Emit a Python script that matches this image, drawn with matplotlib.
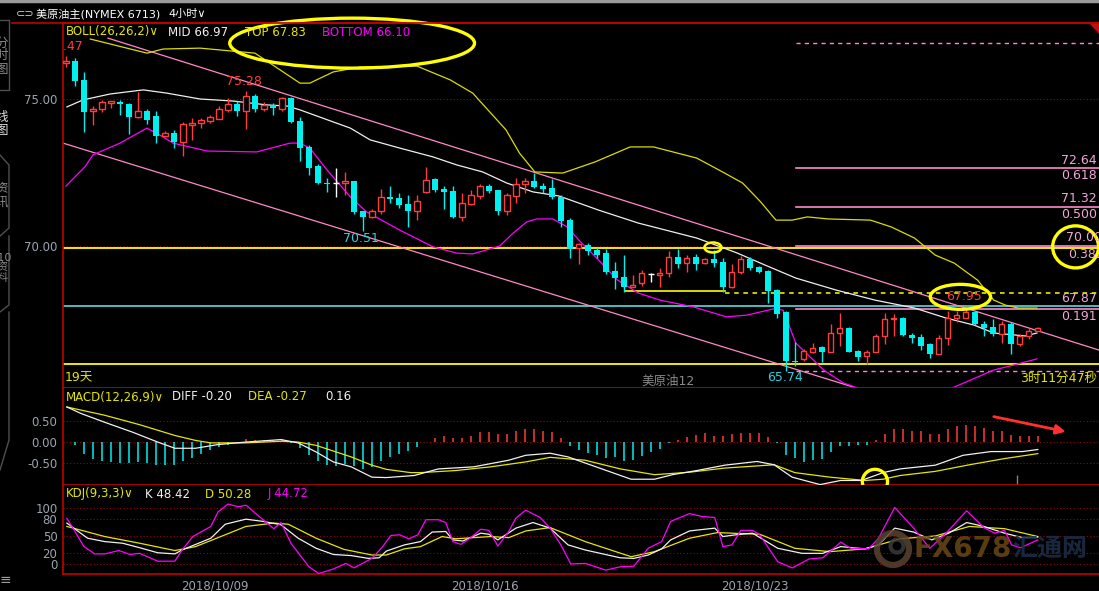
import numpy as np
import matplotlib
matplotlib.use("Agg")
import matplotlib.pyplot as plt
from matplotlib.patches import Ellipse, Polygon
from matplotlib.lines import Line2D

plt.rcParams['font.family'] = ['DejaVu Sans', 'Noto Sans CJK SC']

W, H = 1099, 591

# ---- 4 hour candles (NYMEX crude) ----
opens = [76.22, 76.30, 75.65, 74.60, 74.66, 74.88, 74.90, 74.83, 74.39, 74.59,
         74.42, 73.74, 73.84, 73.53, 74.13, 74.20, 74.25, 74.33, 74.63, 74.83,
         74.60, 75.10, 74.66, 74.80, 74.66, 75.03, 74.25, 73.36, 72.71, 72.14,
         72.13, 72.13, 72.20, 71.18, 70.97, 71.18, 71.68, 71.62, 71.42, 71.20,
         71.85, 72.28, 71.95, 71.88, 71.00, 71.43, 71.70, 72.05, 71.90, 71.20,
         71.70, 72.10, 72.20, 72.03, 71.98, 71.65, 70.87, 69.93, 70.05, 69.85,
         69.75, 69.15, 68.95, 68.60, 68.75, 69.05, 69.00, 69.08, 69.62, 69.42,
         69.62, 69.42, 69.55, 69.45, 68.60, 69.10, 69.55, 69.28, 69.15, 68.50,
         67.75, 66.10, 66.15, 66.40, 66.55, 66.40, 67.05, 67.20, 66.42, 66.25,
         66.38, 66.93, 67.50, 67.55, 66.98, 66.90, 66.68, 66.33, 66.88, 67.55,
         67.55, 67.75, 67.33, 67.25, 67.00, 67.35, 66.65, 66.93, 67.12]
highs = [76.47, 76.40, 75.92, 74.76, 74.95, 74.93, 74.97, 74.86, 75.24, 74.66,
         74.59, 73.90, 73.94, 74.22, 74.35, 74.36, 74.46, 74.76, 75.03, 74.93,
         75.28, 75.17, 74.90, 74.85, 75.07, 75.06, 74.39, 73.43, 72.80, 72.30,
         72.64, 72.50, 72.20, 71.20, 71.25, 71.93, 72.03, 71.80, 71.72, 71.75,
         72.70, 72.30, 72.03, 72.03, 71.80, 71.90, 72.10, 72.10, 71.90, 71.80,
         72.30, 72.30, 72.47, 72.13, 72.27, 71.75, 70.95, 70.10, 70.10, 69.95,
         69.90, 69.45, 69.70, 69.00, 69.20, 69.07, 69.25, 69.82, 69.90, 69.68,
         69.72, 69.60, 69.85, 69.60, 69.40, 69.65, 69.62, 69.33, 69.20, 68.55,
         67.80, 66.72, 66.50, 66.70, 66.60, 67.35, 67.73, 67.25, 66.45, 66.45,
         67.00, 67.73, 67.70, 67.60, 67.05, 67.00, 66.70, 66.97, 67.78, 67.80,
         67.95, 67.80, 67.45, 67.50, 67.45, 67.40, 67.00, 67.20, 67.25]
lows = [76.08, 75.44, 73.87, 74.11, 74.56, 74.69, 74.45, 73.81, 74.35, 74.15,
        73.50, 73.70, 73.33, 73.05, 73.60, 74.00, 74.20, 74.32, 74.56, 74.42,
        73.98, 74.56, 74.60, 74.45, 74.58, 74.20, 72.88, 72.41, 72.10, 71.83,
        71.65, 71.72, 71.10, 70.51, 70.95, 71.10, 71.45, 71.30, 70.63, 70.87,
        71.80, 71.85, 71.25, 70.95, 70.84, 71.40, 71.60, 71.80, 71.05, 71.05,
        71.45, 71.80, 71.98, 71.80, 71.60, 70.63, 69.60, 69.40, 69.70, 69.60,
        69.05, 68.55, 68.45, 68.60, 68.65, 68.77, 68.60, 68.95, 69.25, 69.10,
        69.20, 69.40, 69.30, 68.45, 68.57, 69.05, 69.20, 69.08, 68.07, 67.55,
        65.74, 65.93, 66.10, 66.35, 66.06, 66.40, 66.60, 66.40, 66.10, 66.00,
        66.38, 66.68, 66.95, 66.95, 66.70, 66.45, 66.20, 66.33, 66.62, 67.40,
        67.55, 67.30, 66.95, 66.95, 66.70, 66.33, 66.60, 66.85, 67.10]
closes = [76.30, 75.61, 74.56, 74.66, 74.90, 74.92, 74.83, 74.39, 74.59, 74.28,
          73.74, 73.84, 73.53, 74.15, 74.20, 74.30, 74.38, 74.66, 74.83, 74.60,
          75.10, 74.66, 74.80, 74.69, 75.03, 74.22, 73.33, 72.65, 72.13, 72.10,
          72.13, 72.20, 71.15, 70.97, 71.20, 71.66, 71.60, 71.38, 71.18, 71.52,
          72.25, 71.90, 71.85, 71.00, 71.45, 71.73, 72.05, 71.87, 71.20, 71.73,
          72.10, 72.20, 72.00, 71.95, 71.65, 70.85, 69.90, 70.08, 69.82, 69.70,
          69.13, 68.90, 68.60, 68.67, 69.07, 69.05, 69.08, 69.63, 69.38, 69.60,
          69.40, 69.55, 69.42, 68.60, 69.10, 69.55, 69.25, 69.10, 68.48, 67.70,
          66.08, 66.04, 66.42, 66.52, 66.40, 67.05, 67.22, 66.40, 66.23, 66.38,
          66.93, 67.50, 67.55, 66.98, 66.87, 66.60, 66.33, 66.88, 67.55, 67.67,
          67.75, 67.33, 67.22, 67.00, 67.35, 66.65, 66.95, 67.12, 67.20]

# ---- BOLL(26,26,2) (bar index, price) ----
boll_up_x = [2.7, 9.0, 10.8, 14.9, 21.0, 26.0, 27.1, 29.7, 32.7, 39.0, 42.7, 45.2, 48.9,
             50.4, 52.1, 55.2, 58.8, 62.7, 65.3, 70.1, 73.2, 75.2, 77.2, 78.9, 80.7, 82.4,
             84.7, 89.4, 91.7, 94.3, 96.6, 98.7, 101.3, 103.1, 104.4, 105.8, 107.9]
boll_up = [77.04, 76.56, 76.70, 76.73, 76.56, 75.54, 75.54, 75.92, 76.09, 76.12, 75.65,
           75.20, 73.95, 73.16, 72.52, 72.48, 72.86, 73.37, 73.37, 72.99, 72.48, 72.14,
           71.50, 70.88, 70.88, 70.99, 70.92, 70.88, 70.65, 70.27, 69.69, 69.42, 68.84,
           68.16, 67.99, 67.89, 67.89]
boll_mid_x = [0.1, 1.9, 4.9, 8.6, 11.2, 14.9, 18.6, 22.3, 24.6, 26.0, 29.7, 31.6, 33.8,
              37.1, 40.8, 43.4, 46.3, 49.0, 51.9, 54.8, 59.2, 63.6, 70.1, 74.6, 77.7, 81.1,
              85.6, 89.9, 94.3, 97.8, 100.9, 103.1, 106.6, 107.9]
boll_mid = [74.73, 74.97, 75.17, 75.31, 75.20, 75.00, 74.93, 74.80, 74.76, 74.63, 74.22,
            74.01, 73.61, 73.33, 73.03, 72.76, 72.52, 72.14, 71.84, 71.70, 71.22, 70.78,
            70.27, 69.76, 69.35, 68.91, 68.50, 68.16, 67.89, 67.55, 67.31, 67.04, 66.94,
            67.04]
boll_low_x = [0.0, 2.1, 3.0, 6.0, 9.0, 10.4, 11.9, 15.7, 21.2, 24.9, 26.0, 27.1, 29.0,
              31.6, 33.4, 37.1, 40.8, 43.4, 45.2, 47.1, 48.2, 49.7, 51.2, 52.3, 54.1, 55.7,
              57.0, 59.2, 61.3, 63.6, 66.0, 69.7, 73.4, 75.7, 78.6, 79.7, 81.1, 84.2, 86.4,
              89.3, 96.0, 98.7, 103.1, 105.3, 107.9]
boll_low = [72.04, 72.69, 73.10, 73.50, 74.01, 73.78, 73.50, 73.23, 73.20, 73.50, 73.50,
            73.33, 72.59, 71.67, 71.16, 70.54, 69.97, 69.76, 69.73, 69.90, 70.00, 70.44,
            70.82, 70.92, 70.92, 70.65, 70.20, 69.52, 68.84, 68.40, 68.16, 67.93, 67.59,
            67.65, 67.86, 67.82, 66.70, 65.78, 65.34, 65.03, 64.93, 65.20, 65.78, 65.95,
            66.16]

# ---- drawn objects ----
chan_up_x, chan_up = [4.67, 114.8], [77.07, 66.46]
chan_low_x, chan_low = [-0.33, 92.7], [73.50, 64.71]
fib_start = 81.1
fib_levels = [72.64, 71.32, 70.00, 67.87]
fib_dash = [76.92, 65.74]
yellow_levels = [69.93, 65.99]
cyan_level = 67.96
support_x, support = [62.1, 73.2], 68.48
support_dash = 68.39

# ---- MACD(12,26,9) ----
macd_hist = [0.00, -0.08, -0.30, -0.42, -0.47, -0.48, -0.50, -0.50, -0.48, -0.51,
             -0.56, -0.55, -0.56, -0.47, -0.39, -0.28, -0.20, -0.12, -0.06, -0.02,
             0.07, 0.06, 0.05, 0.06, 0.08, -0.02, -0.15, -0.31, -0.47, -0.55,
             -0.58, -0.54, -0.59, -0.65, -0.60, -0.47, -0.35, -0.28, -0.22, -0.12,
             0.01, 0.10, 0.15, 0.10, 0.10, 0.15, 0.24, 0.24, 0.19, 0.20,
             0.26, 0.31, 0.31, 0.28, 0.24, 0.10, -0.10, -0.20, -0.27, -0.32,
             -0.39, -0.36, -0.46, -0.44, -0.34, -0.24, -0.16, -0.02, 0.04, 0.12,
             0.16, 0.22, 0.15, 0.14, 0.20, 0.22, 0.22, 0.22, 0.12, -0.02,
             -0.32, -0.39, -0.48, -0.44, -0.40, -0.24, -0.10, -0.10, -0.08, -0.06,
             0.04, 0.19, 0.31, 0.31, 0.28, 0.26, 0.19, 0.20, 0.31, 0.38,
             0.42, 0.40, 0.35, 0.27, 0.26, 0.16, 0.14, 0.14, 0.14]
diff_x = [0.1, 1.7, 4.3, 7.4, 10.2, 12.1, 14.4, 16.9, 20.0, 23.9, 25.8, 27.8, 29.7, 31.7,
          34.0, 35.6, 38.7, 41.4, 45.3, 49.2, 51.1, 53.8, 55.8, 58.9, 62.8, 65.4, 67.4,
          70.1, 73.2, 76.8, 78.7, 80.7, 83.8, 86.1, 88.4, 90.8, 92.7, 96.6, 99.7, 102.8,
          106.3, 108.0]
diff = [0.85, 0.69, 0.48, 0.24, 0.0, -0.15, -0.15, -0.06, 0.0, 0.06, -0.02, -0.24, -0.48,
        -0.60, -0.85, -0.86, -0.81, -0.65, -0.60, -0.44, -0.32, -0.27, -0.36, -0.60, -0.90,
        -0.90, -0.79, -0.69, -0.56, -0.47, -0.55, -0.85, -1.03, -0.93, -0.93, -0.74, -0.65,
        -0.56, -0.32, -0.23, -0.23, -0.18]
dea_x = [0.1, 4.3, 8.2, 12.1, 14.4, 16.1, 20.0, 23.9, 25.8, 27.8, 31.7, 34.0, 35.6, 38.3,
         39.4, 43.3, 47.2, 51.1, 53.8, 57.7, 61.6, 65.4, 69.3, 73.2, 78.7, 81.0, 84.9, 88.8,
         90.8, 92.7, 96.6, 100.4, 104.3, 108.0]
dea = [0.85, 0.65, 0.42, 0.16, 0.04, -0.02, -0.02, 0.02, 0.0, -0.08, -0.36, -0.56, -0.66,
       -0.74, -0.74, -0.69, -0.60, -0.48, -0.37, -0.44, -0.65, -0.79, -0.73, -0.63, -0.55,
       -0.74, -0.85, -0.93, -0.90, -0.81, -0.71, -0.55, -0.40, -0.28]

# ---- KDJ(9,3,3) ----
k_x = [0.1, 2.4, 4.3, 6.3, 8.2, 10.2, 12.1, 12.9, 16.1, 17.7, 20.0, 21.9, 23.9, 25.8, 27.8,
       29.7, 31.7, 33.6, 34.8, 35.6, 37.6, 39.4, 40.7, 42.2, 43.0, 44.1, 46.1, 47.0, 48.0,
       50.0, 51.9, 53.8, 55.8, 57.7, 61.6, 63.1, 64.7, 66.2, 67.2, 69.3, 72.1, 73.0, 74.4,
       76.3, 79.1, 81.8, 84.1, 86.1, 88.8, 90.3, 92.1, 94.2, 96.2, 98.1, 100.1, 102.0,
       104.3, 106.3, 108.0]
k_val = [73, 46, 40, 37, 29, 20, 18, 25, 46, 71, 80, 76, 70, 46, 28, 17, 15, 10, 11, 23,
         34, 40, 57, 58, 43, 41, 55, 53, 43, 64, 74, 64, 34, 25, 11, 10, 16, 27, 43, 59,
         64, 49, 52, 55, 28, 19, 19, 31, 27, 34, 64, 57, 43, 55, 74, 67, 55, 47, 48]
d_x = [0.1, 4.3, 8.2, 12.1, 14.4, 16.9, 20.0, 23.1, 24.7, 27.8, 30.9, 34.0, 35.6, 37.6,
       39.4, 41.8, 43.3, 47.2, 49.2, 51.1, 53.8, 57.7, 62.8, 65.4, 69.3, 72.4, 77.1, 81.0,
       84.9, 88.8, 92.7, 96.6, 100.4, 104.3, 108.0]
d_val = [67, 49, 37, 24, 31, 47, 67, 73, 71, 46, 26, 16, 16, 27, 31, 49, 45, 49, 47, 59,
         65, 40, 13, 22, 46, 56, 53, 28, 22, 27, 45, 50, 67, 63, 49]
j_x = [0.1, 1.0, 2.0, 3.2, 4.3, 5.9, 7.1, 8.2, 10.2, 12.1, 12.9, 14.1, 16.1, 16.9, 18.0,
       19.2, 20.0, 21.9, 23.1, 23.9, 25.0, 27.0, 28.1, 29.7, 31.1, 32.0, 34.0, 35.1, 36.1,
       37.1, 38.1, 39.1, 40.0, 41.4, 42.2, 43.0, 43.9, 44.9, 46.1, 47.0, 48.0, 49.2, 50.0,
       51.1, 52.7, 53.8, 55.0, 56.1, 57.7, 60.0, 61.6, 63.1, 64.7, 66.2, 67.2, 69.3, 70.6,
       72.1, 73.0, 74.0, 75.0, 76.3, 77.1, 79.1, 80.7, 82.6, 84.1, 86.1, 87.2, 89.2, 90.3,
       92.1, 94.2, 96.0, 97.8, 100.1, 102.0, 103.2, 104.3, 105.1, 106.1, 108.0]
j_val = [81.5, 58, 31, 18, 18, 24, 17, 19, 5, 5, 25, 49, 67, 93, 107, 102, 105, 79, 63, 74,
         37, -5, -17, -9, 1, -7, 10, 29, 51, 52, 45, 52, 79, 79, 74, 40, 35, 46, 62, 60,
         32, 58, 82, 96, 83, 64, 34, 0, 1, -11, -5, -4, 28, 40, 76, 90, 85, 83, 31, 34,
         60, 60, 52, 4, -7, 9, 11, 39, 28, 27, 46, 101, 64, 28, 55, 95, 65, 55, 60, 34,
         29, 43]

date_pos = [16.6, 46.6, 76.6]
date_labels = ['2018/10/09', '2018/10/16', '2018/10/23']

RED = '#ff3c3c'
CYAN = '#00f0f0'
YEL = '#ffff00'
PINK = '#ff88c8'
GRID = '#a00000'
FRAME = '#c00000'
GRAY = '#9aa4b0'

fig = plt.figure(figsize=(W / 100, H / 100), dpi=100, facecolor='black')


def box(x0, y0, x1, y1):
    return [x0 / W, 1 - y1 / H, (x1 - x0) / W, (y1 - y0) / H]


def ftxt(x, y, s, **kw):
    kw.setdefault('va', 'center')
    kw.setdefault('fontsize', 8.5)
    fig.text(x / W, 1 - y / H, s, **kw)


def fline(xs, ys, **kw):
    fig.add_artist(Line2D([x / W for x in xs], [1 - y / H for y in ys], **kw))


ax = fig.add_axes(box(63, 23, 1099, 388))
ax_m = fig.add_axes(box(63, 388, 1099, 485), sharex=ax)
ax_k = fig.add_axes(box(63, 485, 1099, 574), sharex=ax)

for a in (ax, ax_m, ax_k):
    a.set_facecolor('black')
    for s in a.spines.values():
        s.set_color(FRAME)
        s.set_linewidth(1.2)
    a.spines['right'].set_visible(False)
    a.tick_params(axis='y', length=0, colors=GRAY, labelsize=8.5, pad=4)
    a.tick_params(axis='x', length=0, labelbottom=False)
ax_m.spines['top'].set_visible(False)
ax_k.spines['top'].set_visible(False)

ax.set_xlim(-0.33, 114.8)
ax.set_ylim(65.17, 77.585)
ax_m.set_ylim(-1.04, 1.31)
ax_k.set_ylim(-17.9, 141)

# grids
for v in (75, 70):
    ax.axhline(v, color=GRID, ls=(0, (1, 2)), lw=0.8, zorder=1)
ax.set_yticks([75, 70], ['75.00', '70.00'])
for v in (0.5, 0, -0.5):
    ax_m.axhline(v, color=GRID, ls=(0, (1, 2)), lw=0.8, zorder=1)
ax_m.set_yticks([0.5, 0, -0.5], ['0.50', '0.00', '-0.50'])
for v in (100, 80, 50, 20, 0):
    ax_k.axhline(v, color=GRID, ls=(0, (1, 2)), lw=0.8, zorder=1)
ax_k.set_yticks([100, 80, 50, 20, 0], ['100', '80', '50', '20', '0'])
ax_k.set_xticks(date_pos, date_labels)
ax_k.tick_params(axis='x', labelbottom=True, colors=GRAY, labelsize=8.5, pad=4)

# horizontal levels
for v in yellow_levels:
    ax.axhline(v, color=YEL, lw=1.3, zorder=2)
ax.axhline(cyan_level, color='#60f0f0', lw=1.1, zorder=2)
ax.plot(support_x, [support, support], color=YEL, lw=1.2, zorder=2)
ax.plot([support_x[1], 114.8], [support_dash, support_dash], color=YEL, lw=1.1,
        ls=(0, (3, 3)), zorder=2)
for v in fib_levels:
    ax.plot([fib_start, 114.8], [v, v], color=PINK, lw=1.2, zorder=2)
for v in fib_dash:
    ax.plot([fib_start, 114.8], [v, v], color=PINK, lw=1.0, ls=(0, (3, 3)), zorder=2)

# channel
ax.plot(chan_up_x, chan_up, color=PINK, lw=0.9, zorder=2)
ax.plot(chan_low_x, chan_low, color=PINK, lw=0.9, zorder=2)

# bollinger
ax.plot(boll_up_x, boll_up, color='#dcdc00', lw=0.9, zorder=2)
ax.plot(boll_mid_x, boll_mid, color='#eeeeee', lw=0.9, zorder=2)
ax.plot(boll_low_x, boll_low, color='#ff00ff', lw=0.9, zorder=2)

# candles
o = np.array(opens); hi = np.array(highs); lo = np.array(lows); c = np.array(closes)
idx = np.arange(len(o))
up = c > o
dn = c < o
dj = c == o
ax.vlines(idx[up], lo[up], hi[up], color=RED, lw=1, zorder=3)
ax.vlines(idx[dn], lo[dn], hi[dn], color=CYAN, lw=1, zorder=3)
ax.vlines(idx[dj], lo[dj], hi[dj], color='white', lw=1, zorder=3)
ax.bar(idx[up], (c - o)[up], bottom=o[up], width=0.58, facecolor='black',
       edgecolor=RED, lw=1, zorder=4)
ax.bar(idx[dn], (o - c)[dn], bottom=c[dn], width=0.66, color=CYAN, lw=0, zorder=4)
ax.hlines(o[dj], idx[dj] - 0.33, idx[dj] + 0.33, color='white', lw=1, zorder=4)

# price labels on main chart
ax.text(1.9, 76.77, '76.47', color=RED, ha='right', va='center', fontsize=9, clip_on=True)
ax.text(19.8, 75.61, '75.28', color=RED, ha='center', va='center', fontsize=9)
ax.text(32.8, 70.24, '70.51', color='#30d0e0', ha='center', va='center', fontsize=9)
ax.text(99.8, 68.27, '67.95', color=RED, ha='center', va='center', fontsize=9)
ax.text(79.9, 65.54, '65.74', color='#30d0e0', ha='center', va='center', fontsize=9)

# annotations (yellow rings)
ring = dict(fill=False, edgecolor=YEL, lw=2.4, zorder=6)
ax.add_patch(Ellipse((31.8, 76.90), 27.2, 1.70, clip_on=False, **ring))
ax.add_patch(Ellipse((71.9, 69.95), 1.9, 0.34, **dict(ring, lw=1.8)))
ax.add_patch(Ellipse((99.4, 68.27), 6.7, 0.85, **ring))
ax.add_patch(Ellipse((112.2, 69.97), 5.1, 1.43, clip_on=False, **ring))

# MACD
hist = np.array(macd_hist)
ax_m.vlines(idx, 0, hist, colors=[RED if v > 0 else CYAN for v in hist], lw=1.1, zorder=3)
ax_m.plot(dea_x, dea, color='#e6e600', lw=0.9, zorder=4)
ax_m.plot(diff_x, diff, color='#f0f0f0', lw=0.9, zorder=4)
ax_m.add_patch(Ellipse((89.9, -0.96), 2.8, 0.6, clip_on=False, **ring))
ax_m.annotate('', xy=(111.4, 0.24), xytext=(102.8, 0.63),
              arrowprops=dict(arrowstyle='-|>', color='#ff3030', lw=2,
                              mutation_scale=14), zorder=6)
ax_m.vlines(105.7, -1.04, -0.8, color='#808080', lw=1)

# KDJ
ax_k.plot(d_x, d_val, color='#e6e600', lw=0.9, zorder=4)
ax_k.plot(k_x, k_val, color='#f0f0f0', lw=0.9, zorder=4)
ax_k.plot(j_x, j_val, color='#ff00ff', lw=0.9, zorder=4)

# watermark
fig.add_artist(Ellipse((893 / W, 1 - 549 / H), 32 / W, 32 / H, fill=False,
                       edgecolor='#5a4330', lw=4.5, alpha=0.85, transform=fig.transFigure))
fig.add_artist(Ellipse((897 / W, 1 - 546 / H), 13 / W, 13 / H, fill=False,
                       edgecolor='#3a3a3a', lw=3, alpha=0.85, transform=fig.transFigure))
ftxt(913, 549, 'FX678', color='#6a4716', fontsize=20, fontweight='bold', alpha=0.85)
ftxt(1012, 549, '汇通网', color='#1c2c46', fontsize=18, fontweight='bold',
     family=['Noto Sans CJK SC', 'DejaVu Sans'], alpha=0.9)

# header & frame lines
fline([0, 1099], [1, 1], color='#9a9a9a', lw=2.5)
fline([12, 1099], [23, 23], color=FRAME, lw=1.2)
fig.add_artist(Polygon([(1090 / W, 1 - 23 / H), (1099 / W, 1 - 23 / H), (1099 / W, 1 - 33 / H)],
                       closed=True, color='#c01010', transform=fig.transFigure))
ftxt(16, 14, '⊂⊃', color='#d0d0d0', fontsize=8)
ftxt(36, 14, '美原油主(NYMEX 6713)', color='white', fontsize=8)
ftxt(168, 14, '4小时∨', color='white', fontsize=8)

# left side tabs
fline([0, 9, 9, 0], [20, 20, 90, 90], color='#505050', lw=1)
fline([0, 9, 9, 0], [155, 165, 228, 236], color='#505050', lw=1)
fline([9, 9, 0], [236, 305, 312], color='#505050', lw=1)
fline([9, 9, 0], [312, 440, 470], color='#505050', lw=1)
ftxt(2, 56, '分\n时\n图', color='#8a8a8a', fontsize=9, ha='center', linespacing=1.0)
ftxt(2, 124, '线\n图', color='#e0e0e0', fontsize=9, ha='center', linespacing=1.0)
ftxt(2, 195, '资\n讯', color='#8a8a8a', fontsize=9, ha='center', linespacing=1.1)
ftxt(2, 268, 'F10\n资\n料', color='#8a8a8a', fontsize=8, ha='center', linespacing=1.0)
ftxt(0, 580, '≡', color='#9a9a9a', fontsize=10)

# indicator titles
ftxt(66, 32, 'BOLL(26,26,2)∨', color='#e6e600')
ftxt(168, 32, 'MID 66.97', color='#f0f0f0')
ftxt(245, 32, 'TOP 67.83', color='#e6e600')
ftxt(322, 32, 'BOTTOM 66.10', color='#ff00ff')
ftxt(66, 397, 'MACD(12,26,9)∨', color='#e6e600')
ftxt(172, 397, 'DIFF -0.20', color='#f0f0f0')
ftxt(248, 397, 'DEA -0.27', color='#e6e600')
ftxt(325, 397, '0.16', color='#f0f0f0')
ftxt(66, 494, 'KDJ(9,3,3)∨', color='#e6e600')
ftxt(145, 494, 'K 48.42', color='#f0f0f0')
ftxt(205, 494, 'D 50.28', color='#e6e600')
ftxt(268, 494, 'J 44.72', color='#ff00ff')

# bottom strip of main chart
ftxt(65, 378, '19天', color='#e6e600', fontsize=9)
ftxt(668, 381, '美原油12', color='#8a8a8a', fontsize=9, ha='center')
ftxt(1097, 378, '3时11分47秒', color='#e6e600', fontsize=9, ha='right')

# fibonacci labels
FIBC = '#f0a8d8'
ftxt(1097, 160, '72.64', color=FIBC, ha='right', fontsize=9)
ftxt(1097, 176, '0.618', color=FIBC, ha='right', fontsize=9)
ftxt(1097, 199, '71.32', color=FIBC, ha='right', fontsize=9)
ftxt(1097, 214, '0.500', color=FIBC, ha='right', fontsize=9)
ftxt(1066, 238, '70.00', color=FIBC, fontsize=9)
ftxt(1068, 254, '0.382', color=FIBC, fontsize=9)
ftxt(1097, 299, '67.87', color=FIBC, ha='right', fontsize=9)
ftxt(1097, 316, '0.191', color=FIBC, ha='right', fontsize=9)

fig.savefig('out.png', dpi=100, facecolor='black')
